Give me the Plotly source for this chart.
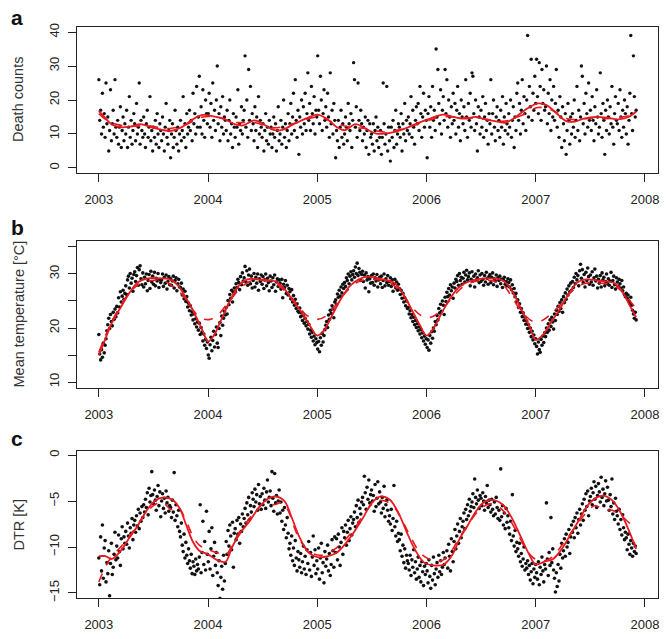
import plotly.graph_objects as go

# ---------------- data (sampled every 3 days from 1 Jan 2003) ----------------
step_days = 3
start_year = 2003

deaths_2003 = [26, 14, 17, 10, 22, 12, 16, 9, 25, 13,
               15, 5, 11, 23, 8, 13, 17, 10, 26, 12,
               9, 14, 7, 12, 18, 6, 11, 15, 8, 13,
               10, 17, 6, 12, 21, 9, 14, 7, 11, 16,
               13, 8, 19, 10, 12, 25, 7, 14, 11, 9,
               15, 10, 6, 13, 17, 9, 12, 21, 8, 11,
               5, 12, 9, 14, 7, 16, 10, 6, 13, 11,
               8, 15, 10, 5, 12, 19, 9, 7, 11, 14,
               3, 10, 13, 6, 9, 17, 11, 7, 12, 5, 10,
               14, 8, 11, 21, 9, 13, 6, 16, 10, 12,
               17, 11, 14, 8, 22, 13, 16, 10, 24, 12,
               15, 27, 12, 18, 10, 23, 14, 9, 20, 16, 13]
deaths_2004 = [16, 22, 12, 19, 9, 25, 14, 17, 11, 20,
               30, 13, 16, 8, 18, 12, 21, 10, 15, 14,
               11, 17, 8, 14, 20, 10, 13, 6, 16, 12,
               9, 15, 12, 23, 7, 13, 11, 18, 10, 14,
               17, 33, 12, 20, 9, 29, 14, 24, 11, 16,
               13, 8, 18, 11, 15, 6, 21, 10, 14, 12,
               9, 13, 5, 11, 16, 8, 12, 7, 14, 10,
               12, 6, 10, 15, 9, 13, 5, 11, 18, 8,
               10, 14, 7, 12, 20, 9, 13, 6, 11, 16, 8,
               13, 19, 10, 15, 22, 11, 26, 14, 9, 17,
               4, 15, 12, 20, 10, 18, 13, 22, 11, 16,
               28, 14, 19, 11, 24, 16, 13, 21, 10, 17, 15]
deaths_2005 = [33, 17, 13, 27, 20, 11, 16, 23, 14, 18,
               12, 22, 15, 9, 28, 13, 17, 10, 19, 14,
               3, 11, 8, 14, 6, 12, 17, 9, 13, 7,
               10, 15, 12, 8, 19, 13, 11, 16, 6, 14,
               31, 26, 12, 18, 9, 25, 14, 11, 17, 13,
               8, 12, 10, 15, 6, 11, 14, 4, 13, 9,
               10, 7, 13, 5, 11, 15, 8, 12, 6, 9,
               11, 4, 9, 25, 13, 7, 10, 24, 5, 12,
               8, 2, 12, 9, 14, 6, 11, 17, 7, 10, 13,
               12, 9, 16, 5, 13, 10, 19, 8, 14, 11,
               15, 10, 13, 21, 9, 17, 12, 7, 14, 18,
               13, 19, 11, 24, 16, 9, 15, 22, 12, 17, 14]
deaths_2006 = [3, 16, 21, 12, 18, 9, 24, 14, 17, 11,
               35, 15, 29, 19, 13, 23, 10, 17, 21, 14,
               29, 16, 26, 12, 20, 15, 9, 18, 13, 22,
               14, 19, 10, 17, 24, 12, 16, 8, 20, 15,
               13, 18, 11, 26, 15, 9, 19, 14, 22, 12,
               28, 27, 16, 11, 20, 13, 5, 18, 15, 10,
               17, 12, 21, 9, 15, 19, 11, 14, 7, 16,
               13, 26, 10, 16, 20, 12, 8, 15, 18, 11,
               14, 9, 17, 12, 21, 7, 15, 11, 19, 13, 10,
               16, 12, 20, 9, 14, 18, 6, 15, 11, 22,
               25, 14, 19, 10, 17, 26, 13, 21, 16, 11,
               20, 39, 15, 24, 18, 32, 14, 22, 17, 27, 19]
deaths_2007 = [32, 21, 16, 31, 24, 14, 29, 19, 23, 17,
               18, 30, 13, 22, 16, 26, 11, 20, 15, 24,
               14, 19, 29, 12, 17, 9, 21, 15, 6, 18,
               13, 8, 16, 4, 11, 19, 14, 7, 15, 10,
               16, 12, 20, 9, 14, 24, 11, 17, 8, 15,
               30, 27, 13, 19, 10, 22, 16, 12, 25, 14,
               17, 11, 21, 14, 8, 18, 13, 23, 15, 10,
               12, 28, 16, 9, 19, 14, 4, 17, 11, 20,
               15, 10, 18, 13, 24, 12, 7, 16, 21, 14,
               13, 19, 11, 23, 15, 9, 17, 12, 20, 16,
               10, 18, 7, 14, 22, 39, 16, 11, 33, 21, 15, 17]

temp_2003 = [18.8, 15.2, 14.1, 16.0, 14.6, 17.2, 15.4, 16.8, 18.0, 19.5,
             20.6, 21.8, 19.9, 22.5, 21.2, 20.4, 22.9, 21.6, 23.5, 22.1,
             24.0, 22.8, 25.6, 23.9, 26.7, 24.8, 25.9, 27.0, 25.3, 26.4,
             27.8, 26.2, 28.9, 29.6, 27.4, 30.1, 28.3, 29.2, 26.8, 29.9,
             30.4, 28.6, 29.7, 31.2, 27.9, 30.8, 31.5, 29.1, 28.0, 30.2,
             27.6, 29.4, 28.2, 30.0, 26.9, 28.8, 29.9, 27.3, 30.5, 28.5,
             29.6, 28.1, 30.3, 27.8, 29.2, 28.7, 30.1, 27.5, 29.0, 28.4,
             28.9, 30.0, 27.7, 29.4, 28.3, 29.8, 27.2, 28.6, 29.5, 28.0,
             29.1, 27.9, 28.7, 29.6, 27.4, 28.8, 29.3, 26.9, 28.2, 29.0, 27.6,
             27.5, 28.3, 26.1, 27.2, 25.4, 26.8, 24.9, 25.8, 23.9, 24.6,
             23.2, 24.1, 22.4, 23.0, 21.5, 22.6, 20.8, 21.7, 20.2, 21.1,
             19.6, 20.9, 18.8, 20.1, 19.2, 17.6, 18.9, 16.8, 17.9, 16.2, 17.4]
temp_2004 = [15.0, 14.4, 16.9, 18.3, 15.8, 17.7, 19.4, 16.5, 18.8, 20.2,
             17.2, 16.4, 19.9, 21.0, 18.6, 22.2, 20.5, 21.8, 23.1, 22.4,
             23.8, 22.6, 25.1, 24.3, 26.2, 25.5, 27.0, 24.8, 26.6, 27.4,
             26.8, 28.2, 27.5, 29.0, 28.4, 27.1, 29.5, 28.0, 30.2, 28.7,
             29.3, 31.4, 28.5, 30.6, 27.9, 29.8, 30.9, 28.2, 29.6, 27.4,
             28.8, 30.1, 27.6, 29.4, 28.3, 30.0, 27.0, 29.1, 28.6, 29.8,
             28.1, 29.5, 27.3, 28.9, 30.0, 27.8, 29.2, 28.4, 26.9, 29.6,
             28.7, 27.5, 29.3, 28.0, 29.8, 26.8, 28.5, 29.1, 27.7, 28.9,
             28.3, 27.2, 29.0, 25.6, 28.1, 27.5, 28.8, 26.4, 27.9, 26.1, 27.3,
             26.7, 25.4, 27.1, 24.8, 26.0, 24.2, 25.3, 23.6, 24.5, 23.1,
             22.9, 23.7, 22.1, 22.8, 21.4, 22.3, 20.9, 21.8, 20.4, 21.2,
             19.8, 20.7, 18.9, 19.6, 18.3, 19.2, 17.6, 18.5, 16.9, 18.0, 17.3]
temp_2005 = [16.1, 17.5, 15.6, 18.2, 16.8, 19.0, 17.4, 18.6, 19.7, 20.5,
             21.2, 20.1, 22.4, 21.6, 23.3, 22.7, 24.1, 23.5, 21.9, 24.8,
             25.2, 24.4, 26.3, 25.7, 27.0, 25.9, 27.6, 26.5, 28.1, 27.3,
             28.4, 27.7, 29.3, 28.8, 30.0, 28.2, 29.6, 30.4, 28.9, 29.9,
             30.6, 29.4, 31.3, 30.1, 32.0, 29.7, 31.0, 30.3, 28.8, 29.9,
             30.5, 28.6, 29.8, 27.4, 30.2, 28.9, 29.5, 26.7, 29.1, 28.3,
             29.7, 28.4, 30.0, 27.9, 29.3, 28.7, 29.9, 27.6, 28.9, 29.4,
             28.2, 29.6, 27.5, 28.8, 30.0, 27.8, 29.1, 28.4, 29.7, 27.9,
             28.6, 29.3, 27.7, 28.9, 26.8, 28.2, 29.0, 27.4, 28.5, 27.0, 28.1,
             27.3, 26.2, 27.0, 25.5, 26.4, 24.8, 25.6, 24.1, 25.0, 23.6,
             23.8, 22.6, 23.2, 21.9, 22.5, 21.2, 22.0, 20.6, 21.4, 20.1,
             20.8, 19.5, 20.2, 18.9, 19.7, 18.2, 19.1, 17.6, 18.5, 17.0, 18.0]
temp_2006 = [16.4, 17.8, 15.9, 18.6, 17.2, 19.3, 18.1, 20.0, 19.4, 21.2,
             20.6, 22.3, 21.5, 23.6, 22.8, 24.4, 23.1, 25.0, 24.2, 22.5,
             25.7, 24.9, 26.6, 25.8, 27.3, 26.1, 28.0, 26.9, 27.6, 25.5,
             28.3, 27.4, 29.0, 28.6, 29.7, 27.9, 30.1, 28.8, 29.4, 28.1,
             29.2, 30.3, 28.5, 29.8, 30.7, 28.9, 29.5, 30.2, 27.8, 29.0,
             30.4, 28.7, 29.6, 27.6, 30.0, 28.9, 29.3, 30.6, 28.4, 29.8,
             28.6, 30.1, 29.0, 27.9, 29.7, 28.5, 30.3, 29.2, 28.1, 29.5,
             29.9, 28.4, 29.4, 30.2, 28.0, 29.1, 28.7, 29.8, 27.7, 29.3,
             28.8, 29.6, 28.2, 29.0, 27.5, 28.9, 29.4, 28.1, 28.6, 27.8, 29.1,
             28.4, 27.6, 28.9, 27.1, 28.0, 26.5, 27.3, 25.8, 26.4, 24.9,
             25.2, 23.8, 24.5, 22.9, 23.6, 22.1, 22.8, 21.4, 22.0, 20.7,
             21.3, 19.9, 20.6, 19.2, 20.0, 18.4, 19.4, 17.8, 18.7, 17.1, 18.0]
temp_2007 = [16.6, 15.2, 17.4, 16.0, 15.5, 17.9, 16.8, 18.5, 17.3, 19.1,
             18.4, 20.0, 19.2, 20.8, 19.6, 21.5, 20.3, 22.0, 21.1, 19.8,
             22.6, 21.4, 23.3, 22.5, 24.0, 23.1, 24.7, 23.6, 25.2, 22.9,
             25.8, 24.7, 26.5, 25.3, 27.2, 26.1, 27.8, 26.7, 28.3, 27.0,
             28.6, 27.5, 29.4, 28.2, 30.1, 28.9, 29.7, 27.8, 30.6, 31.8,
             29.2, 30.8, 28.4, 29.9, 27.6, 30.3, 28.8, 31.1, 29.5, 28.1,
             29.8, 28.5, 30.4, 27.9, 29.3, 30.9, 28.7, 29.6, 27.4, 29.0,
             28.3, 29.7, 27.6, 30.2, 28.9, 29.4, 27.8, 28.6, 30.0, 28.2,
             29.1, 27.9, 28.7, 30.3, 27.5, 28.8, 29.6, 28.0, 27.2, 29.3,
             28.5, 27.7, 29.0, 28.2, 27.4, 28.8, 26.9, 27.6, 26.2, 25.8,
             26.4, 25.5, 26.1, 25.0, 24.6, 25.7, 24.2, 23.3, 22.6, 21.8, 22.9, 21.5]

dtr_2003 = [-11.2, -14.1, -8.9, -12.6, -7.6, -13.4, -10.1, -9.3, -13.8, -11.7,
            -12.9, -10.4, -15.3, -11.8, -9.6, -13.0, -12.2, -10.8, -8.4, -11.4,
            -9.9, -11.2, -8.7, -10.5, -12.0, -9.1, -7.8, -10.2, -8.9, -9.6,
            -8.3, -9.7, -7.4, -8.8, -10.1, -7.9, -8.5, -6.9, -9.2, -7.6,
            -7.1, -8.4, -6.6, -7.7, -5.9, -8.0, -6.3, -7.2, -5.6, -6.8,
            -5.4, -6.2, -4.8, -5.7, -4.1, -6.5, -3.6, -5.1, -4.4, -1.8,
            -4.3, -5.3, -3.8, -4.9, -6.0, -4.5, -3.3, -5.5, -4.0, -6.7,
            -5.0, -4.2, -5.8, -4.7, -6.3, -3.9, -5.2, -4.6, -6.1, -5.5,
            -5.7, -6.8, -4.9, -6.2, -1.9, -7.1, -5.4, -6.6, -7.8, -6.0, -8.3,
            -8.9, -7.4, -9.8, -10.5, -8.6, -11.2, -9.5, -10.9, -11.8, -10.2,
            -11.5, -12.3, -10.8, -12.9, -11.6, -12.1, -13.0, -11.3, -12.6, -11.9,
            -12.4, -11.1, -5.4, -12.8, -10.6, -7.2, -11.9, -9.4, -12.5, -6.1, -10.8]
dtr_2004 = [-11.6, -8.3, -12.4, -10.2, -7.9, -13.1, -11.0, -9.5, -12.0, -10.6,
            -12.8, -14.2, -11.5, -15.6, -13.3, -12.1, -14.6, -10.9, -13.7, -11.8,
            -9.4, -10.8, -8.2, -9.9, -7.6, -8.8, -10.3, -7.3, -12.2, -8.5,
            -8.0, -9.2, -7.1, -8.6, -6.8, -9.6, -7.5, -8.3, -6.4, -7.8,
            -6.9, -5.8, -7.4, -5.2, -6.5, -4.6, -7.0, -5.5, -6.2, -4.1,
            -4.8, -5.6, -3.7, -5.1, -4.3, -6.0, -3.2, -5.3, -4.5, -5.9,
            -4.2, -5.4, -3.6, -4.9, -5.8, -4.0, -2.7, -5.1, -4.6, -3.9,
            -5.5, -1.8, -4.7, -6.1, -2.0, -5.2, -4.4, -6.4, -5.0, -3.8,
            -6.3, -5.1, -7.2, -6.0, -8.1, -5.7, -7.6, -9.0, -6.8, -8.5, -10.2,
            -9.6, -10.9, -8.8, -11.5, -10.1, -12.0, -9.3, -11.2, -12.6, -10.5,
            -11.4, -12.2, -10.7, -12.8, -11.6, -9.9, -12.4, -11.0, -13.0, -10.3,
            -11.8, -9.4, -12.5, -10.6, -13.2, -11.1, -8.8, -12.0, -10.3, -12.9, -11.5]
dtr_2005 = [-12.4, -10.1, -13.5, -11.2, -9.6, -12.8, -11.7, -13.9, -10.5, -12.1,
            -11.3, -9.8, -12.6, -10.7, -13.1, -11.9, -9.2, -10.4, -12.2, -8.9,
            -10.6, -9.1, -11.4, -8.6, -10.0, -12.0, -9.5, -7.9, -10.8, -8.3,
            -9.0, -7.6, -9.8, -8.4, -7.1, -9.3, -8.0, -6.7, -8.7, -7.4,
            -7.0, -6.2, -7.8, -5.5, -6.8, -4.9, -7.3, -5.8, -6.4, -5.1,
            -4.6, -5.4, -2.3, -4.1, -5.9, -3.5, -4.8, -2.7, -5.2, -4.3,
            -3.8, -5.0, -4.4, -6.1, -3.2, -5.6, -4.7, -2.9, -5.3, -4.0,
            -5.1, -6.3, -4.6, -5.8, -3.4, -6.7, -5.4, -4.9, -6.0, -7.2,
            -6.6, -7.5, -5.9, -8.2, -6.9, -3.3, -7.8, -8.8, -7.2, -9.4, -8.5,
            -9.2, -10.4, -8.6, -11.0, -9.8, -11.7, -10.2, -12.3, -10.9, -11.5,
            -11.8, -12.5, -10.9, -13.1, -11.4, -12.2, -10.3, -12.8, -11.6, -13.5,
            -12.4, -11.1, -13.3, -12.0, -13.8, -11.6, -12.7, -14.2, -12.1, -13.0, -11.8]
dtr_2006 = [-12.6, -13.9, -11.4, -13.2, -14.5, -12.0, -13.6, -11.1, -12.9, -14.1,
            -12.4, -11.7, -13.3, -10.9, -12.7, -11.5, -13.0, -12.2, -10.6, -11.9,
            -11.2, -16.3, -10.4, -12.3, -9.7, -11.0, -12.6, -9.1, -10.5, -11.6,
            -9.4, -8.1, -10.2, -8.8, -7.5, -9.6, -8.3, -6.9, -9.0, -7.8,
            -7.2, -6.3, -8.0, -5.9, -7.0, -5.4, -6.6, -4.8, -6.1, -5.6,
            -5.1, -4.2, -5.7, -2.6, -4.6, -5.3, -3.8, -4.9, -5.8, -4.4,
            -4.7, -5.5, -4.1, -5.0, -6.0, -4.5, -5.2, -3.3, -5.7, -4.9,
            -5.4, -6.2, -4.8, -5.9, -6.6, -5.1, -6.4, -4.6, -5.7, -6.9,
            -6.0, -7.1, -1.5, -6.7, -5.5, -7.6, -6.3, -8.0, -5.8, -7.3, -6.6,
            -7.9, -8.6, -7.2, -9.3, -4.3, -8.8, -9.9, -8.2, -10.5, -9.5,
            -10.2, -11.0, -9.6, -11.6, -10.7, -12.1, -11.3, -10.0, -12.5, -11.8,
            -12.3, -11.5, -13.0, -12.0, -13.6, -12.7, -11.8, -14.0, -12.4, -13.3, -11.9]
dtr_2007 = [-12.8, -13.5, -11.6, -14.1, -12.2, -13.0, -11.1, -12.6, -13.8, -11.9,
            -12.4, -5.2, -11.3, -13.1, -10.6, -12.0, -6.8, -11.7, -10.2, -12.5,
            -13.4, -14.9, -12.8, -14.3, -11.9, -13.7, -10.8, -12.3, -9.6, -11.2,
            -10.4, -9.1, -11.0, -8.6, -10.0, -9.5, -8.1, -10.7, -8.9, -7.6,
            -8.4, -7.2, -9.0, -6.8, -7.9, -6.3, -8.5, -7.0, -5.9, -7.6,
            -6.4, -5.3, -7.1, -4.8, -6.0, -4.2, -5.6, -3.9, -6.6, -5.0,
            -4.5, -3.6, -5.4, -4.1, -2.9, -4.8, -3.4, -5.7, -4.4, -3.1,
            -4.0, -5.1, -2.4, -4.6, -3.7, -5.5, -4.2, -2.8, -5.0, -3.5,
            -4.9, -6.0, -4.3, -5.6, -2.6, -6.4, -5.2, -7.0, -4.7, -6.1,
            -6.6, -7.5, -5.9, -8.1, -7.0, -8.7, -6.5, -7.9, -9.2, -8.4,
            -9.0, -10.3, -8.6, -9.7, -10.8, -9.3, -10.1, -11.0, -9.6, -10.5, -9.9, -10.7]

# smoothed curves (decimal year, value)
deaths_solid_t = [2003.00, 2003.05, 2003.12, 2003.20, 2003.30, 2003.38, 2003.48, 2003.58, 2003.66, 2003.76,
                  2003.86, 2003.95, 2004.05, 2004.15, 2004.25, 2004.32, 2004.42, 2004.50, 2004.60, 2004.68,
                  2004.78, 2004.90, 2005.00, 2005.08, 2005.18, 2005.25, 2005.35, 2005.44, 2005.54, 2005.62,
                  2005.72, 2005.82, 2005.92, 2006.04, 2006.15, 2006.25, 2006.35, 2006.45, 2006.55, 2006.65,
                  2006.72, 2006.80, 2006.90, 2007.02, 2007.10, 2007.18, 2007.28, 2007.35, 2007.45, 2007.55,
                  2007.65, 2007.75, 2007.85, 2007.92]
deaths_solid_v = [16.8, 15.0, 12.8, 12.0, 12.2, 12.9, 12.0, 11.2, 10.9, 12.0,
                  14.3, 15.6, 15.2, 14.4, 12.8, 12.5, 14.0, 13.0, 11.2, 11.2,
                  12.8, 14.6, 15.7, 14.6, 12.0, 11.1, 12.9, 11.6, 10.1, 10.1,
                  10.7, 11.8, 13.2, 14.6, 15.7, 15.0, 14.5, 15.0, 14.2, 13.6,
                  13.3, 14.6, 17.0, 19.0, 18.5, 16.4, 13.8, 13.6, 14.6, 15.0,
                  14.8, 14.3, 15.0, 16.6]
deaths_dash_t = [2003.00, 2003.10, 2003.25, 2003.45, 2003.65, 2003.80, 2003.95, 2004.10, 2004.25, 2004.42,
                 2004.60, 2004.80, 2005.00, 2005.15, 2005.30, 2005.45, 2005.60, 2005.80, 2006.00, 2006.15,
                 2006.35, 2006.55, 2006.72, 2006.88, 2007.02, 2007.15, 2007.30, 2007.50, 2007.70, 2007.92]
deaths_dash_v = [16.0, 13.5, 12.3, 12.4, 11.6, 12.8, 15.0, 14.8, 13.4, 13.4,
                 11.8, 13.2, 15.0, 13.4, 12.0, 11.6, 10.6, 11.6, 13.8, 15.0,
                 14.8, 14.3, 13.8, 15.6, 17.8, 17.0, 14.4, 14.6, 14.6, 15.8]

temp_solid_t = [2003.00, 2003.06, 2003.12, 2003.20, 2003.28, 2003.36, 2003.45, 2003.55, 2003.65, 2003.72,
                2003.80, 2003.88, 2003.95, 2004.00, 2004.05, 2004.12, 2004.20, 2004.28, 2004.36, 2004.50,
                2004.62, 2004.70, 2004.78, 2004.86, 2004.94, 2005.00, 2005.06, 2005.14, 2005.22, 2005.30,
                2005.38, 2005.46, 2005.60, 2005.70, 2005.78, 2005.86, 2005.94, 2006.00, 2006.06, 2006.14,
                2006.22, 2006.30, 2006.40, 2006.55, 2006.70, 2006.78, 2006.86, 2006.94, 2007.00, 2007.06,
                2007.14, 2007.22, 2007.30, 2007.38, 2007.46, 2007.60, 2007.72, 2007.80, 2007.86, 2007.92]
temp_solid_v = [15.0, 18.0, 21.0, 23.8, 26.5, 28.5, 29.2, 29.2, 29.0, 28.0,
                25.5, 22.5, 19.5, 17.5, 18.5, 21.5, 25.0, 27.8, 29.0, 28.9,
                28.6, 27.2, 25.0, 22.8, 20.2, 18.6, 19.5, 22.5, 25.5, 27.8,
                29.0, 29.5, 29.0, 28.4, 26.5, 23.6, 20.5, 18.6, 19.8, 22.8,
                25.6, 27.6, 28.7, 29.2, 28.8, 27.0, 23.8, 20.5, 17.8, 18.6,
                21.0, 23.5, 26.2, 28.4, 29.0, 28.7, 28.3, 26.5, 24.2, 22.0]
temp_dash_t = [2003.00, 2003.08, 2003.16, 2003.26, 2003.36, 2003.48, 2003.60, 2003.70, 2003.78, 2003.86,
               2003.94, 2004.02, 2004.10, 2004.18, 2004.28, 2004.38, 2004.50, 2004.62, 2004.72, 2004.80,
               2004.90, 2005.00, 2005.08, 2005.16, 2005.26, 2005.38, 2005.52, 2005.66, 2005.76, 2005.86,
               2005.96, 2006.04, 2006.12, 2006.22, 2006.32, 2006.44, 2006.58, 2006.70, 2006.78, 2006.88,
               2006.98, 2007.06, 2007.14, 2007.24, 2007.34, 2007.44, 2007.58, 2007.70, 2007.80, 2007.88, 2007.92]
temp_dash_v = [15.5, 19.5, 22.8, 26.0, 28.0, 28.8, 28.7, 27.3, 25.8, 23.4,
               21.8, 21.6, 22.6, 24.6, 27.0, 28.6, 28.8, 28.2, 26.5, 24.8,
               22.4, 21.6, 22.2, 24.0, 26.6, 28.6, 29.0, 28.4, 26.8, 24.0,
               22.2, 22.0, 23.0, 25.2, 27.4, 28.6, 28.8, 28.0, 25.8, 22.8,
               21.2, 21.4, 22.6, 24.6, 27.0, 28.2, 28.3, 28.0, 26.6, 24.6, 23.6]

dtr_solid_t = [2003.00, 2003.06, 2003.12, 2003.20, 2003.28, 2003.36, 2003.44, 2003.52, 2003.60, 2003.68,
               2003.74, 2003.80, 2003.86, 2003.92, 2004.00, 2004.08, 2004.16, 2004.22, 2004.30, 2004.38,
               2004.46, 2004.54, 2004.62, 2004.70, 2004.76, 2004.84, 2004.92, 2005.00, 2005.10, 2005.18,
               2005.26, 2005.34, 2005.42, 2005.50, 2005.58, 2005.66, 2005.74, 2005.82, 2005.90, 2005.98,
               2006.06, 2006.16, 2006.24, 2006.30, 2006.38, 2006.46, 2006.54, 2006.62, 2006.70, 2006.78,
               2006.86, 2006.94, 2007.00, 2007.08, 2007.16, 2007.24, 2007.32, 2007.40, 2007.48, 2007.56,
               2007.62, 2007.70, 2007.78, 2007.86, 2007.92]
dtr_solid_v = [-11.0, -11.0, -11.3, -10.4, -9.0, -7.6, -6.0, -4.9, -4.6, -4.9,
               -5.8, -7.6, -9.4, -10.4, -10.8, -11.4, -11.6, -10.0, -8.4, -7.2,
               -5.8, -4.8, -4.5, -5.0, -6.6, -9.0, -10.6, -11.1, -11.0, -10.6,
               -9.6, -8.3, -6.8, -5.2, -4.5, -4.8, -6.2, -8.4, -10.4, -11.7,
               -12.0, -11.9, -10.8, -9.2, -7.6, -6.0, -5.0, -4.9, -5.4, -6.8,
               -8.8, -10.8, -11.9, -11.6, -11.3, -10.2, -8.6, -7.0, -5.4, -4.6,
               -4.4, -4.9, -6.3, -8.4, -10.2]
dtr_dash_t = [2003.00, 2003.05, 2003.12, 2003.20, 2003.30, 2003.40, 2003.50, 2003.58, 2003.66, 2003.72,
              2003.80, 2003.86, 2003.92, 2004.00, 2004.08, 2004.16, 2004.24, 2004.32, 2004.42, 2004.52,
              2004.60, 2004.68, 2004.74, 2004.80, 2004.86, 2004.94, 2005.04, 2005.14, 2005.24, 2005.34,
              2005.44, 2005.54, 2005.62, 2005.70, 2005.78, 2005.86, 2005.94, 2006.04, 2006.14, 2006.22,
              2006.30, 2006.40, 2006.50, 2006.58, 2006.66, 2006.74, 2006.82, 2006.90, 2006.98, 2007.08,
              2007.16, 2007.24, 2007.34, 2007.44, 2007.54, 2007.62, 2007.70, 2007.78, 2007.86, 2007.92]
dtr_dash_v = [-13.8, -12.4, -11.0, -10.0, -8.5, -6.8, -5.5, -5.1, -5.9, -5.6,
              -7.2, -8.8, -9.8, -10.3, -10.6, -10.9, -9.3, -7.8, -6.3, -5.2,
              -5.4, -5.2, -6.2, -8.2, -9.6, -10.6, -10.9, -10.4, -9.4, -8.0,
              -6.2, -5.0, -5.0, -5.6, -7.2, -9.0, -10.6, -11.4, -11.5, -10.6,
              -9.0, -7.2, -5.8, -5.3, -5.6, -6.6, -8.2, -10.0, -11.2, -11.5,
              -11.0, -9.8, -8.2, -6.6, -5.5, -5.9, -6.0, -6.6, -7.4, -8.0]

year_ticks = [2003, 2004, 2005, 2006, 2007, 2008]

# ---------------- figure ----------------
def join(*parts):
    out = []
    for p in parts:
        out.extend(p)
    return out

deaths = join(deaths_2003, deaths_2004, deaths_2005, deaths_2006, deaths_2007)
temps = join(temp_2003, temp_2004, temp_2005, temp_2006, temp_2007)
dtrs = join(dtr_2003, dtr_2004, dtr_2005, dtr_2006, dtr_2007)

def xs(vals):
    return [start_year + step_days * i / 365.25 for i in range(len(vals))]

W, H = 669, 639
FONT = "Liberation Sans, Arial, Helvetica, sans-serif"
RED = "#e8191f"

def px_x(p):
    return p / W

def px_y(p):
    return 1 - p / H

fig = go.Figure()

panels = [
    (deaths, deaths_solid_t, deaths_solid_v, deaths_dash_t, deaths_dash_v, "", "y", 3.4),
    (temps, temp_solid_t, temp_solid_v, temp_dash_t, temp_dash_v, "2", "y2", 3.6),
    (dtrs, dtr_solid_t, dtr_solid_v, dtr_dash_t, dtr_dash_v, "3", "y3", 3.6),
]
for vals, st, sv, dt, dv, suf, yref, msize in panels:
    xa = "x" + suf
    fig.add_trace(go.Scatter(x=xs(vals), y=vals, mode="markers", xaxis=xa, yaxis=yref,
                             marker=dict(size=msize, color="#111111", line=dict(width=0)),
                             showlegend=False, hoverinfo="skip"))
    fig.add_trace(go.Scatter(x=dt, y=dv, mode="lines", xaxis=xa, yaxis=yref,
                             line=dict(color=RED, width=1.6, dash="dash", shape="spline", smoothing=1.0),
                             showlegend=False, hoverinfo="skip"))
    fig.add_trace(go.Scatter(x=st, y=sv, mode="lines", xaxis=xa, yaxis=yref,
                             line=dict(color=RED, width=1.8, shape="spline", smoothing=1.0),
                             showlegend=False, hoverinfo="skip"))

xdom = [px_x(77), px_x(658)]
doms = [[px_y(173), px_y(27)], [px_y(388), px_y(241)], [px_y(598), px_y(451)]]
yranges = [[-1.5, 41.5], [8.9, 36.1], [-15.55, 0.45]]
ytickvals = [[0, 10, 20, 30, 40], [10, 15, 20, 25, 30, 35], [0, -5, -10, -15]]
yticktext = [["0", "10", "20", "30", "40"], ["10", "", "20", "", "30", ""], ["0", "\u22125", "\u221210", "\u221215"]]

axis_common = dict(showline=True, linecolor="#222222", linewidth=1, mirror=True,
                   ticks="outside", ticklen=8, tickwidth=1, tickcolor="#222222",
                   showgrid=False, zeroline=False, automargin=False,
                   tickfont=dict(family=FONT, size=13, color="#222222"))

layout = dict(width=W, height=H, margin=dict(l=0, r=0, t=0, b=0, pad=0),
              paper_bgcolor="white", plot_bgcolor="white", font=dict(family=FONT),
              hovermode=False)
for k in range(3):
    suf = "" if k == 0 else str(k + 1)
    layout["xaxis" + suf] = dict(axis_common, domain=xdom, range=[2002.80, 2008.12],
                                 anchor="y" + suf, tickvals=year_ticks,
                                 ticktext=[str(v) for v in year_ticks], ticklabelstandoff=6)
    layout["yaxis" + suf] = dict(axis_common, domain=doms[k], range=yranges[k],
                                 anchor="x" + suf, tickvals=ytickvals[k], ticktext=yticktext[k],
                                 tickangle=-90, ticklabelstandoff=4)
fig.update_layout(**layout)

titles = ["Death counts", "Mean temperature [\u00b0C]", "DTR [K]"]
letters = ["a", "b", "c"]
letter_y = [17, 227, 438]
for k in range(3):
    ymid = (doms[k][0] + doms[k][1]) / 2
    fig.add_annotation(x=px_x(18), y=ymid, xref="paper", yref="paper", text=titles[k],
                       textangle=-90, showarrow=False, xanchor="center", yanchor="middle",
                       font=dict(family=FONT, size=14.5, color="#333333"))
    fig.add_annotation(x=px_x(17), y=px_y(letter_y[k]), xref="paper", yref="paper",
                       text="<b>" + letters[k] + "</b>", showarrow=False,
                       xanchor="center", yanchor="middle",
                       font=dict(family=FONT, size=21, color="#111111"))

# remove the default 8px page margin so the figure sits at the window's corner
fig.write_html("out.html", config={"displayModeBar": False, "staticPlot": True},
               post_script="document.body.style.margin='0';document.body.style.overflow='hidden';")
